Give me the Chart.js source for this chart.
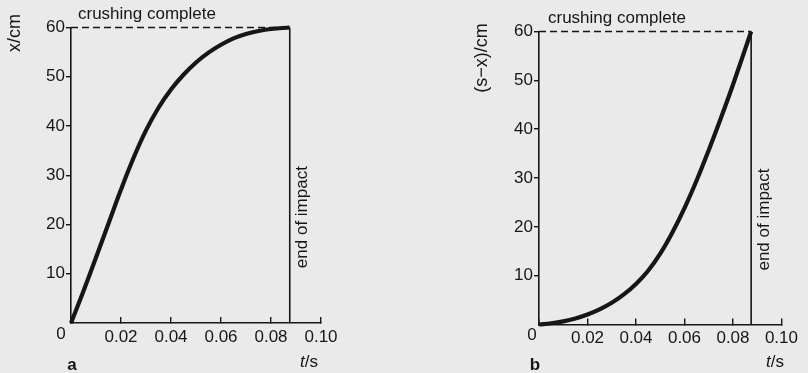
<!DOCTYPE html>
<html>
<head>
<meta charset="utf-8">
<script src="https://cdn.jsdelivr.net/npm/chart.js@4/dist/chart.umd.min.js"></script>
<style>
html, body { margin: 0; padding: 0; background: #eaeaea; }
#wrap { position: relative; width: 808px; height: 373px; overflow: hidden; }
.panel { position: absolute; top: 0; width: 404px; height: 373px; }
</style>
</head>
<body>
<div id="wrap">
  <div class="panel" style="left:0"><canvas id="chartA" width="404" height="373"></canvas></div>
  <div class="panel" style="left:404px"><canvas id="chartB" width="404" height="373"></canvas></div>
</div>
<script>
// time samples (s)
const times = [0, 0.005, 0.01, 0.015, 0.02, 0.025, 0.03, 0.035, 0.04, 0.045, 0.05, 0.055, 0.06, 0.065, 0.07, 0.075, 0.08, 0.0875];
// a: car crumple x (cm)
const crushX = [0, 6.5, 13.3, 20.2, 27.1, 33.5, 39.1, 43.7, 47.4, 50.4, 52.9, 54.9, 56.5, 57.8, 58.7, 59.3, 59.7, 60];
// b: passenger travel relative to car, s - x (cm)
const travelSX = [0, 0.25, 0.65, 1.24, 2.04, 3.09, 4.44, 6.16, 8.3, 11.0, 14.5, 18.85, 23.85, 29.5, 35.7, 42.25, 49.1, 60];

const tickT = [0, 0.02, 0.04, 0.06, 0.08, 0.10];
const tickCm = [10, 20, 30, 40, 50, 60];
const tEnd = 0.0875;
const depth = 60;

const ink = '#161616';
const FONT = '"Liberation Sans", Arial, sans-serif';

function labels(o) {
    return {
        id: 'labels',
        afterDraw(chart) {
            const { ctx, scales: { x, y } } = chart;
            const x0 = x.getPixelForValue(0);
            const y0 = y.getPixelForValue(0);
            const xEnd = x.getPixelForValue(tEnd);
            const yTop = y.getPixelForValue(depth);
            ctx.save();
            ctx.fillStyle = ink;
            ctx.font = '17px ' + FONT;
            ctx.textBaseline = 'middle';

            ctx.textAlign = 'left';
            ctx.fillText('crushing complete', x0 + o.crushDx, yTop - 13);

            ctx.textAlign = 'center';
            ctx.fillText('0', x0 + o.zeroDx, y0 + 11);

            // t/s with italic t
            ctx.textAlign = 'left';
            ctx.font = 'italic 17px ' + FONT;
            const wt = ctx.measureText('t').width;
            ctx.fillText('t', o.unitX, 362);
            ctx.font = '17px ' + FONT;
            ctx.fillText('/s', o.unitX + wt, 362);

            ctx.font = 'bold 17px ' + FONT;
            ctx.textAlign = 'center';
            ctx.fillText(o.letter, o.letterX, 365);

            // rotated texts
            ctx.font = '17px ' + FONT;
            ctx.save();
            ctx.translate(xEnd + 13, y.getPixelForValue(21.5));
            ctx.rotate(-Math.PI / 2);
            ctx.fillText('end of impact', 0, 0);
            ctx.restore();

            ctx.save();
            ctx.font = '18px ' + FONT;
            ctx.translate(o.titleX, o.titleY);
            ctx.rotate(-Math.PI / 2);
            ctx.fillText(o.title, 0, 0);
            ctx.restore();

            ctx.restore();
        }
    };
}

function panel(id, o) {
    const series = times.map((t, i) => ({ x: t, y: o.values[i] }));
    return new Chart(document.getElementById(id), {
        type: 'line',
        data: {
            datasets: [
                {
                    data: series,
                    borderColor: ink,
                    borderWidth: 4.2,
                    pointRadius: 0,
                    tension: 0.4,
                    clip: false
                },
                {
                    data: [{ x: 0, y: depth }, { x: tEnd, y: depth }],
                    borderColor: ink,
                    borderWidth: 1.5,
                    borderDash: [7, 4],
                    pointRadius: 0,
                    clip: false
                },
                {
                    data: [{ x: tEnd, y: 0 }, { x: tEnd, y: depth }],
                    borderColor: ink,
                    borderWidth: 1.6,
                    pointRadius: 0,
                    clip: false
                }
            ]
        },
        options: {
            responsive: false,
            animation: false,
            layout: { padding: o.pad },
            plugins: {
                legend: { display: false },
                tooltip: { enabled: false }
            },
            scales: {
                x: {
                    type: 'linear',
                    min: 0,
                    max: 0.10,
                    afterBuildTicks: s => { s.ticks = tickT.map(v => ({ value: v })); },
                    afterFit: s => { s.height = o.xh; },
                    grid: { drawOnChartArea: false, tickLength: -6, color: ink, lineWidth: 1.4 },
                    border: { color: ink, width: 1.6 },
                    ticks: {
                        padding: 10,
                        color: ink,
                        font: { family: FONT, size: 17 },
                        callback: v => v === 0 ? '' : v.toFixed(2)
                    }
                },
                y: {
                    min: 0,
                    max: 60,
                    afterBuildTicks: s => { s.ticks = tickCm.map(v => ({ value: v })); },
                    afterFit: s => { s.width = o.yw; },
                    grid: { drawOnChartArea: false, tickLength: 5, color: ink, lineWidth: 1.4 },
                    border: { color: ink, width: 1.6 },
                    ticks: { padding: 1, color: ink, font: { family: FONT, size: 17 } }
                }
            }
        },
        plugins: [labels(o)]
    });
}

panel('chartA', {
    values: crushX,
    pad: { left: 0, top: 27.5, right: 83, bottom: 0 },
    yw: 71, xh: 50,
    crushDx: 7, zeroDx: -10,
    unitX: 300, letter: 'a', letterX: 72,
    title: 'x/cm', titleX: 15, titleY: 33
});

panel('chartB', {
    values: travelSX,
    pad: { left: 0, top: 31.5, right: 21, bottom: 0 },
    yw: 135, xh: 48.5,
    crushDx: 9, zeroDx: -7,
    unitX: 362, letter: 'b', letterX: 131,
    title: '(s\u2212x)/cm', titleX: 78, titleY: 58
});
</script>
</body>
</html>
